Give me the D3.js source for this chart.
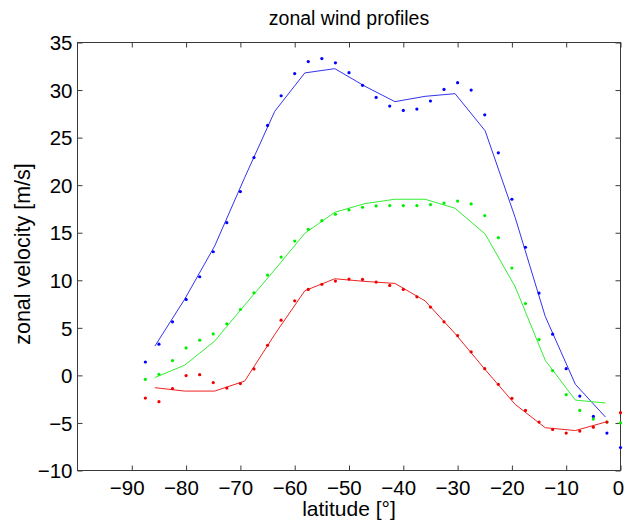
<!DOCTYPE html>
<html><head><meta charset="utf-8">
<script src="https://cdn.jsdelivr.net/npm/d3@7"></script>
<style>
body{margin:0;background:#fff}
svg text{font-family:"Liberation Sans",Arial,Helvetica,sans-serif;fill:#000}
</style>
</head><body><svg id="c" width="625" height="523"></svg>
<script>
const dotLat = [-87.5,-85,-82.5,-80,-77.5,-75,-72.5,-70,-67.5,-65,-62.5,-60,-57.5,-55,-52.5,-50,-47.5,-45,-42.5,-40,-37.5,-35,-32.5,-30,-27.5,-25,-22.5,-20,-17.5,-15,-12.5,-10,-7.5,-5,-2.5,0];
const blueDots = [1.41,3.28,5.63,7.99,10.37,13.0,16.06,19.33,22.9,26.28,29.4,31.73,32.99,33.31,32.86,31.83,30.5,29.23,28.32,27.86,28.0,28.85,30.07,30.78,30.0,27.4,23.4,18.52,13.47,8.65,4.33,0.71,-2.17,-4.31,-6.07,-7.58];
const greenDots = [-0.41,0.12,1.56,2.89,3.7,4.36,5.42,6.93,8.68,10.55,12.44,14.13,15.36,16.27,16.94,17.4,17.68,17.82,17.85,17.85,17.85,17.96,18.12,18.33,18.03,16.8,14.48,11.29,7.56,3.77,0.5,-2.03,-3.68,-4.59,-4.9,-5.0];
const redDots = [-2.38,-2.76,-1.39,-0.02,0.08,-0.76,-1.33,-0.86,0.68,3.17,5.8,7.84,9.04,9.57,9.92,10.13,10.09,9.81,9.46,9.04,8.26,7.18,5.63,4.19,2.47,0.71,-0.94,-2.41,-3.68,-4.91,-5.68,-6.07,-5.86,-5.44,-4.91,-3.92];

const lineLat = [-85.76,-80.27,-74.74,-69.21,-63.68,-58.14,-52.61,-47.07,-41.54,-36.00,-30.47,-24.93,-19.40,-13.86,-8.31,-2.77];
const blueLine = [3.07,8.0,13.6,20.8,27.76,31.8,32.25,30.4,28.78,29.34,29.62,25.72,16.6,6.2,-0.94,-4.38];
const greenLine = [-0.23,1.07,3.6,7.4,11.1,14.94,17.15,18.06,18.52,18.52,17.57,14.87,9.32,1.59,-2.6,-2.9];
const redLine = [-1.29,-1.65,-1.65,-0.6,4.3,8.9,10.16,9.88,9.67,7.84,4.4,0.61,-3.05,-5.5,-5.8,-4.91];

const xTicks = [-90,-80,-70,-60,-50,-40,-30,-20,-10,0];
const yTicks = [-10,-5,0,5,10,15,20,25,30,35];

const titleText = "zonal wind profiles";
const xLabel = "latitude [°]";
const yLabel = "zonal velocity [m/s]";

const svg = d3.select("#c");
const x = d3.scaleLinear().domain([-100,0]).range([77.5,620.5]);
const y = d3.scaleLinear().domain([-10,35]).range([470.5,42.5]);
const fmt = d => (d < 0 ? "\u2212" + Math.abs(d) : String(d));

const axisColor = "#3a3a3a";

// axes
const gB = svg.append("g").attr("transform", `translate(0,${y(-10)})`)
  .call(d3.axisBottom(x).tickValues(xTicks).tickSize(-5).tickSizeOuter(0).tickPadding(10).tickFormat(fmt));
const gT = svg.append("g").attr("transform", `translate(0,${y(35)})`)
  .call(d3.axisTop(x).tickValues(xTicks).tickSize(-5).tickSizeOuter(0).tickFormat(""));
const gL = svg.append("g").attr("transform", `translate(${x(-100)},0)`)
  .call(d3.axisLeft(y).tickValues(yTicks).tickSize(-5).tickSizeOuter(0).tickPadding(5).tickFormat(fmt));
const gR = svg.append("g").attr("transform", `translate(${x(0)},0)`)
  .call(d3.axisRight(y).tickValues(yTicks).tickSize(-5).tickSizeOuter(0).tickFormat(""));
[gB,gT,gL,gR].forEach(g => {
  g.select(".domain").remove();
  g.selectAll(".tick line").attr("stroke", axisColor);
  g.selectAll(".tick text").attr("font-size", 20.5).attr("fill", "#000")
    .attr("font-family", '"Liberation Sans",Arial,Helvetica,sans-serif');
});
gB.selectAll(".tick text").attr("dy", "0.7em")
  .attr("dx", d => d < 0 ? "-0.25em" : (d === 0 ? "-0.12em" : "0"));
gL.selectAll(".tick text").attr("dy", "0.35em");

svg.append("rect")
  .attr("x", x(-100)).attr("y", y(35))
  .attr("width", x(0) - x(-100)).attr("height", y(-10) - y(35))
  .attr("fill", "none").attr("stroke", axisColor).attr("stroke-width", 1);

// series
const series = [
  {dots: blueDots, line: blueLine, color: "#0000ff", lineColor: "#3333ee"},
  {dots: greenDots, line: greenLine, color: "#00ee00", lineColor: "#33ee33"},
  {dots: redDots, line: redLine, color: "#ee0000", lineColor: "#ee2222"}
];
const lineGen = d3.line().x(d => x(d[0])).y(d => y(d[1]));
series.forEach(s => {
  svg.append("path")
    .datum(lineLat.map((l, i) => [l, s.line[i]]))
    .attr("d", lineGen).attr("fill", "none")
    .attr("stroke", s.lineColor).attr("stroke-width", 1);
  svg.append("g").selectAll("circle")
    .data(dotLat.map((l, i) => [l, s.dots[i]]))
    .join("circle")
    .attr("cx", d => x(d[0])).attr("cy", d => y(d[1]))
    .attr("r", 1.6).attr("fill", s.color);
});

// labels
svg.append("text").attr("x", 349).attr("y", 25).attr("text-anchor", "middle")
  .attr("font-size", 19.5).text(titleText);
svg.append("text").attr("x", 349).attr("y", 516).attr("text-anchor", "middle")
  .attr("font-size", 21).text(xLabel);
svg.append("text").attr("transform", "translate(30,254) rotate(-90)")
  .attr("text-anchor", "middle").attr("font-size", 21.5).text(yLabel);
</script>
</body></html>
